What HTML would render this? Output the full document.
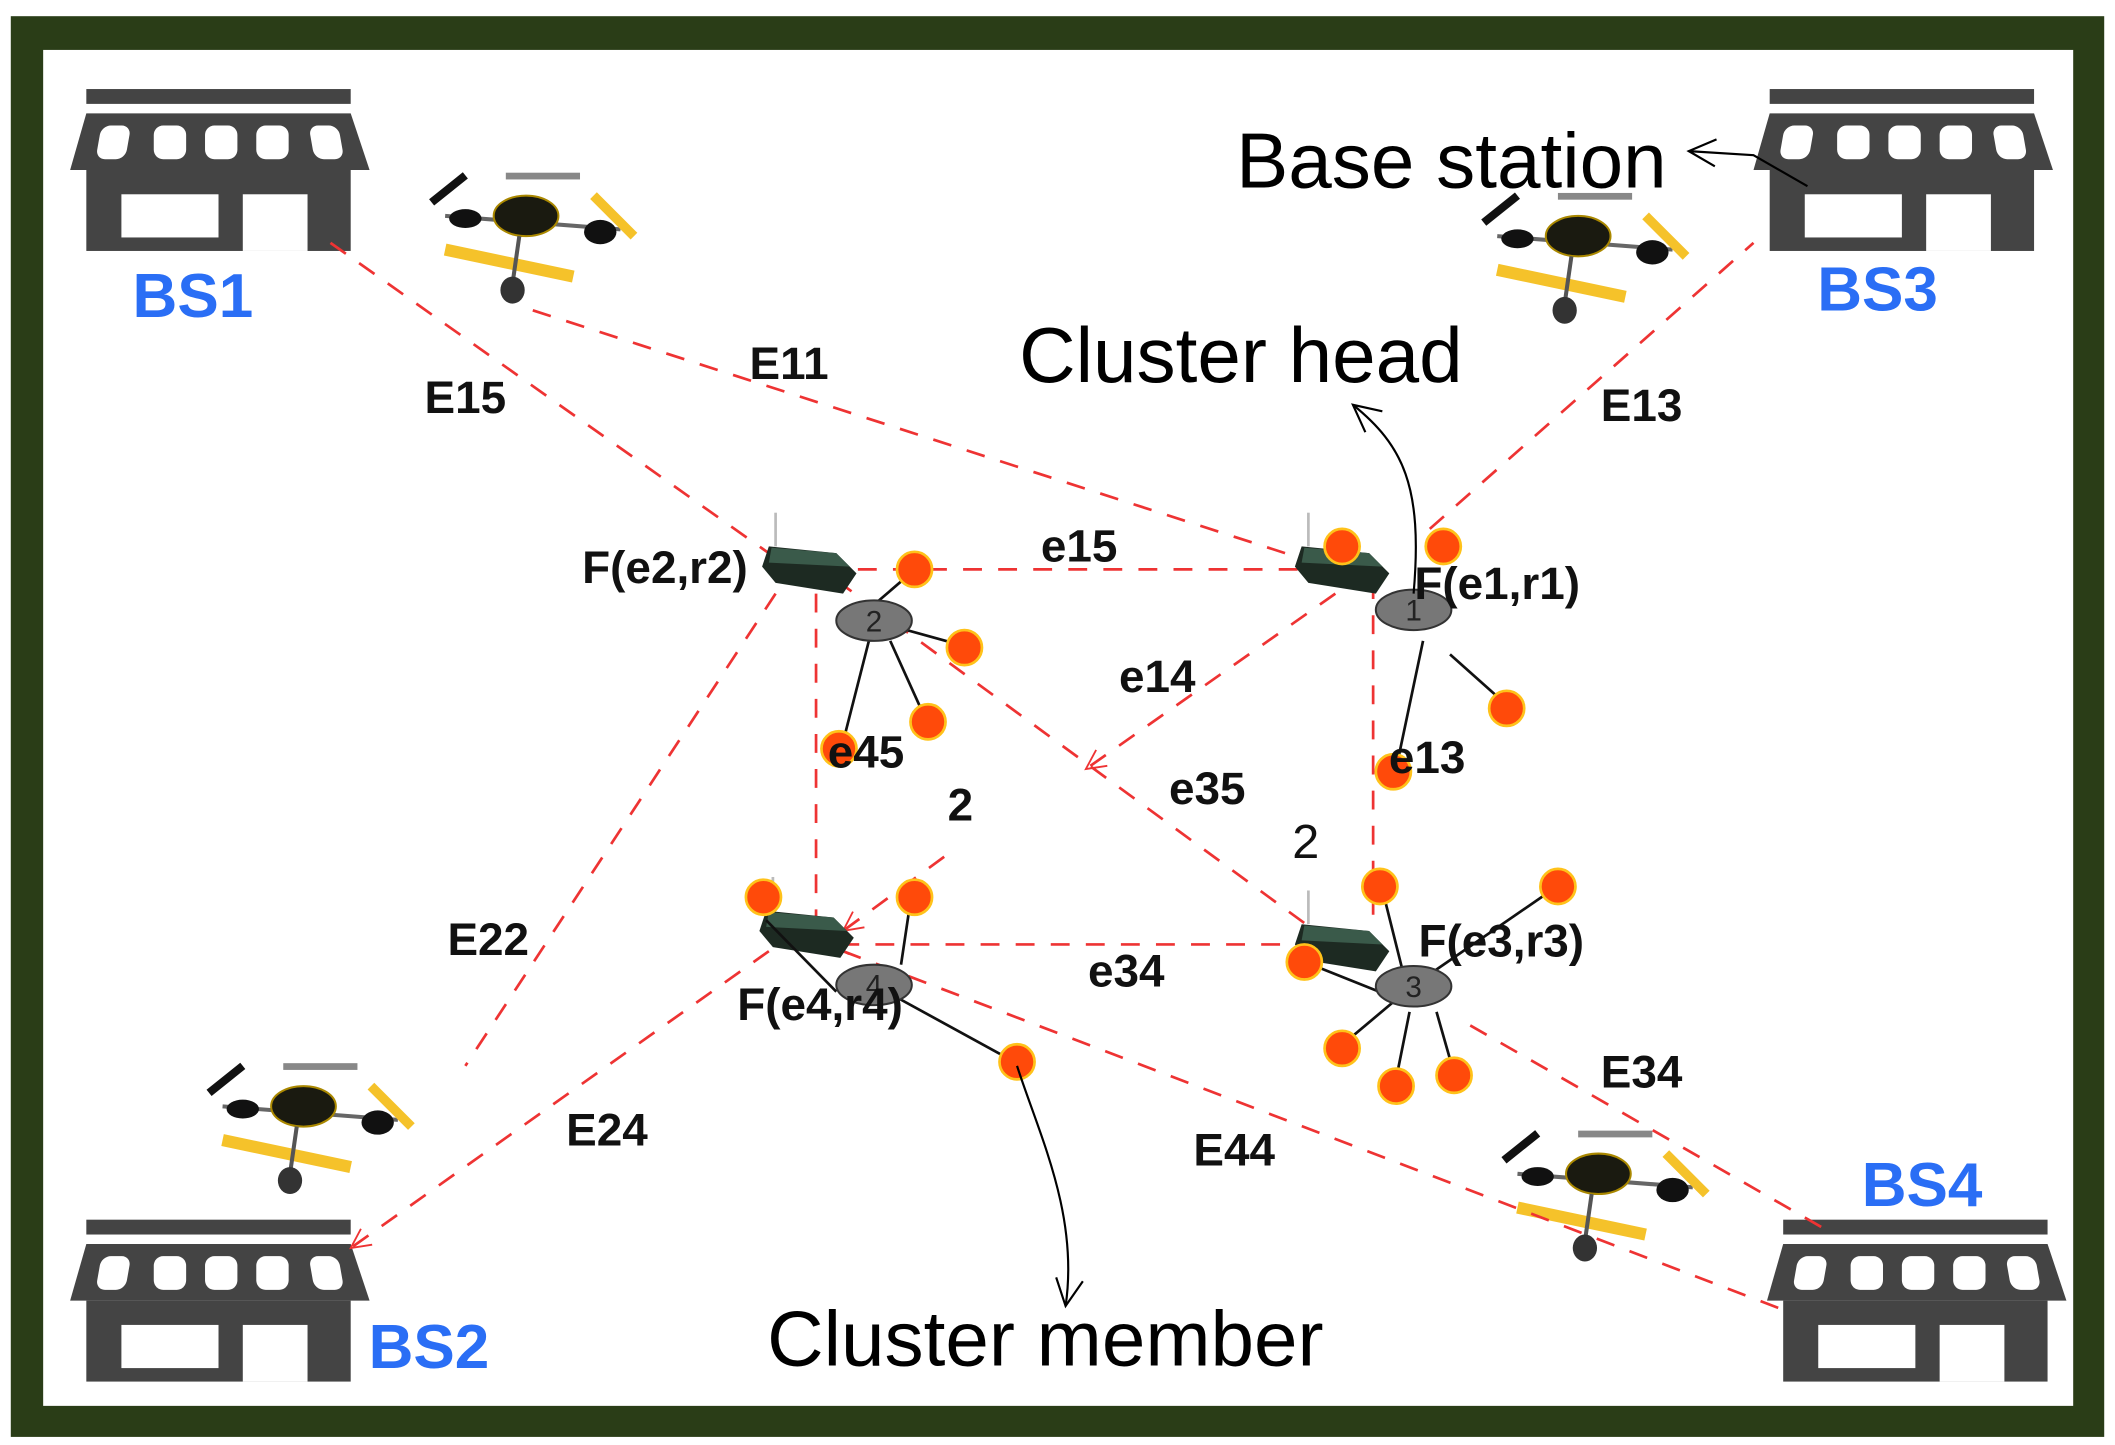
<!DOCTYPE html>
<html><head><meta charset="utf-8"><style>
html,body{margin:0;padding:0;background:#fff;}
svg{display:block}
text{font-family:"Liberation Sans",sans-serif;}
</style></head><body>
<svg width="2115" height="1445" viewBox="0 0 1568 1071" preserveAspectRatio="none" xmlns="http://www.w3.org/2000/svg">
<defs>
<g id="shop">
<rect x="12" y="0" width="196" height="11" fill="#444"/>
<polygon points="12,18 208,18 222,60 0,60" fill="#444"/>
<rect x="22" y="27" width="22" height="25" rx="7" fill="#fff" transform="skewX(-10) translate(6,0)"/>
<rect x="62" y="27" width="24" height="25" rx="7" fill="#fff"/>
<rect x="100" y="27" width="24" height="25" rx="7" fill="#fff"/>
<rect x="138" y="27" width="24" height="25" rx="7" fill="#fff"/>
<rect x="178" y="27" width="22" height="25" rx="7" fill="#fff" transform="skewX(10) translate(-6,0)"/>
<rect x="12" y="60" width="196" height="60" fill="#444"/>
<rect x="38" y="78" width="72" height="32" fill="#fff"/>
<rect x="128" y="78" width="48" height="42" fill="#fff"/>
</g>
<g id="drone">
<line x1="-70" y1="-20" x2="-45" y2="-40" stroke="#111" stroke-width="6"/>
<line x1="-60" y1="-10" x2="70" y2="0" stroke="#666" stroke-width="3"/>
<rect x="-15" y="-42" width="55" height="5" fill="#888"/>
<ellipse cx="0" cy="-10" rx="24" ry="15" fill="#1a1a10" stroke="#a80" stroke-width="1.5"/>
<ellipse cx="-45" cy="-8" rx="12" ry="7" fill="#111"/>
<ellipse cx="55" cy="2" rx="12" ry="9" fill="#111"/>
<line x1="50" y1="-25" x2="80" y2="5" stroke="#f5c22a" stroke-width="7"/>
<line x1="-60" y1="15" x2="35" y2="35" stroke="#f5c22a" stroke-width="9"/>
<line x1="-5" y1="5" x2="-10" y2="40" stroke="#555" stroke-width="3"/>
<ellipse cx="-10" cy="45" rx="9" ry="10" fill="#333"/>
</g>
<g id="mote">
<polygon points="-30,-15 20,-10 35,5 25,20 -25,12 -35,0" fill="#1d2a22"/>
<polygon points="-28,-14 20,-10 30,0 -30,-3" fill="#3a5a4a"/>
<line x1="-25" y1="-40" x2="-25" y2="-15" stroke="#bbb" stroke-width="2"/>
</g>
<marker id="oa" viewBox="0 0 24 24" refX="22" refY="12" markerWidth="24" markerHeight="24" markerUnits="userSpaceOnUse" orient="auto">
<path d="M2,2 L22,12 L2,22" fill="none" stroke="#000" stroke-width="1.6"/>
</marker>
<marker id="ra" viewBox="0 0 20 20" refX="18" refY="10" markerWidth="18" markerHeight="18" markerUnits="userSpaceOnUse" orient="auto">
<path d="M2,2 L18,10 L2,18" fill="none" stroke="#e33" stroke-width="1.5"/>
</marker>
</defs>
<rect x="8" y="12" width="1552" height="1053" fill="#2a3d17"/>
<rect x="32" y="37" width="1505" height="1005" fill="#fff"/>

<use href="#shop" x="52" y="66"/>
<use href="#shop" x="1300" y="66"/>
<use href="#shop" x="52" y="904"/>
<use href="#shop" x="1310" y="904"/>

<use href="#drone" x="390" y="170"/>
<use href="#drone" x="1170" y="185"/>
<use href="#drone" x="225" y="830"/>
<use href="#drone" x="1185" y="880"/>

<g stroke="#e33" stroke-width="2" stroke-dasharray="14,12" fill="none">
<line x1="245" y1="180" x2="570" y2="410"/>
<line x1="395" y1="230" x2="990" y2="422"/>
<line x1="610" y1="422" x2="990" y2="422"/>
<line x1="620" y1="430" x2="975" y2="690"/>
<line x1="990" y1="440" x2="805" y2="570" marker-end="url(#ra)"/>
<line x1="605" y1="440" x2="605" y2="690"/>
<line x1="1018" y1="430" x2="1018" y2="690"/>
<line x1="975" y1="700" x2="615" y2="700" marker-end="url(#ra)"/>
<line x1="575" y1="440" x2="345" y2="790"/>
<line x1="570" y1="705" x2="260" y2="925" marker-end="url(#ra)"/>
<line x1="625" y1="705" x2="1320" y2="970"/>
<line x1="1090" y1="760" x2="1360" y2="915"/>
<line x1="1060" y1="392" x2="1300" y2="180"/>
<line x1="700" y1="635" x2="625" y2="690" marker-end="url(#ra)"/>
</g>

<use href="#mote" x="600" y="420"/>
<use href="#mote" x="995" y="420"/>
<use href="#mote" x="598" y="690"/>
<use href="#mote" x="995" y="700"/>

<g stroke="#111" stroke-width="2">
<line x1="648" y1="460" x2="625" y2="550"/>
<line x1="660" y1="475" x2="684" y2="528"/>
<line x1="640" y1="455" x2="675" y2="425"/>
<line x1="665" y1="465" x2="712" y2="478"/>
<line x1="1055" y1="475" x2="1035" y2="570"/>
<line x1="1075" y1="485" x2="1112" y2="518"/>
<line x1="1048" y1="730" x2="998" y2="772"/>
<line x1="1045" y1="750" x2="1035" y2="800"/>
<line x1="1065" y1="750" x2="1077" y2="792"/>
<line x1="1060" y1="722" x2="1150" y2="660"/>
<line x1="1040" y1="720" x2="1025" y2="660"/>
<line x1="1030" y1="738" x2="970" y2="714"/>
<line x1="648" y1="730" x2="752" y2="787"/>
<line x1="668" y1="715" x2="675" y2="668"/>
<line x1="568" y1="682" x2="620" y2="735"/>
</g>

<g fill="#777" stroke="#333" stroke-width="1.5">
<ellipse cx="648" cy="460" rx="28" ry="15"/>
<ellipse cx="1048" cy="452" rx="28" ry="15"/>
<ellipse cx="648" cy="730" rx="28" ry="15"/>
<ellipse cx="1048" cy="731" rx="28" ry="15"/>
</g>
<g font-size="22" fill="#222" text-anchor="middle">
<text x="648" y="468">2</text><text x="1048" y="460">1</text><text x="648" y="738">4</text><text x="1048" y="739">3</text>
</g>

<g fill="#ff4a0a" stroke="#ffc21a" stroke-width="2">
<circle cx="678" cy="422" r="13"/><circle cx="715" cy="480" r="13"/><circle cx="688" cy="535" r="13"/><circle cx="622" cy="555" r="13"/>
<circle cx="995" cy="405" r="13"/><circle cx="1070" cy="405" r="13"/><circle cx="1117" cy="525" r="13"/><circle cx="1033" cy="572" r="13"/>
<circle cx="566" cy="665" r="13"/><circle cx="678" cy="665" r="13"/><circle cx="754" cy="787" r="13"/>
<circle cx="1023" cy="657" r="13"/><circle cx="1155" cy="657" r="13"/><circle cx="967" cy="713" r="13"/>
<circle cx="995" cy="777" r="13"/><circle cx="1035" cy="805" r="13"/><circle cx="1078" cy="797" r="13"/>
</g>

<g font-weight="bold" font-size="46" fill="#2a6ef5" text-anchor="middle">
<text x="143" y="235">BS1</text><text x="1392" y="230">BS3</text>
<text x="318" y="1014">BS2</text><text x="1425" y="894">BS4</text>
</g>

<g font-weight="bold" font-size="34" fill="#111" text-anchor="middle">
<text x="345" y="306">E15</text><text x="585" y="281">E11</text><text x="1217" y="312">E13</text>
<text x="800" y="416">e15</text><text x="493" y="432">F(e2,r2)</text><text x="1110" y="444">F(e1,r1)</text>
<text x="858" y="513">e14</text><text x="642" y="569">e45</text><text x="1058" y="573">e13</text>
<text x="895" y="596">e35</text><text x="712" y="608">2</text>
<text x="362" y="708">E22</text><text x="835" y="731">e34</text><text x="1113" y="709">F(e3,r3)</text>
<text x="608" y="756">F(e4,r4)</text><text x="1217" y="806">E34</text><text x="450" y="849">E24</text><text x="915" y="864">E44</text>
</g>
<text x="968" y="636" font-size="36" fill="#111" text-anchor="middle">2</text>

<g font-size="58" fill="#000" text-anchor="middle">
<text x="1076" y="139">Base station</text>
<text x="920" y="283">Cluster head</text>
<text x="775" y="1012">Cluster member</text>
</g>

<g fill="none" stroke="#000" stroke-width="1.6">
<path d="M1340,138 L1300,115 L1252,112" marker-end="url(#oa)"/>
<path d="M1048,440 C1055,360 1040,330 1003,300" marker-end="url(#oa)"/>
<path d="M754,790 C770,840 800,900 790,968" marker-end="url(#oa)"/>
</g>
</svg>
</body></html>
